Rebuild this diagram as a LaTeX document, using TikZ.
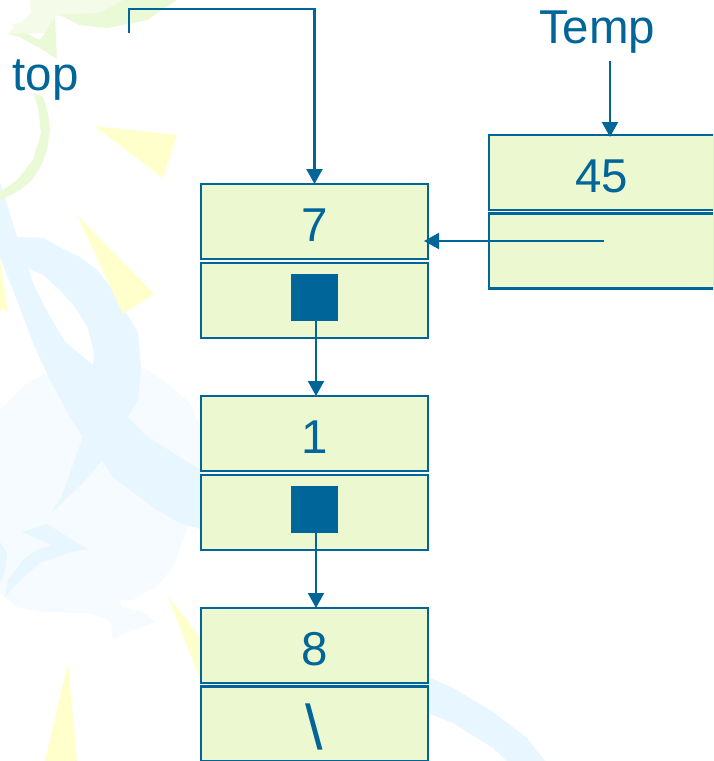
\documentclass[tikz,border=0pt]{standalone}
\usepackage{fontspec}
\setmainfont{Liberation Sans}
\usetikzlibrary{arrows.meta}
\definecolor{ink}{HTML}{006699}
\definecolor{cellfill}{HTML}{ECF8D0}
\definecolor{leafgreen}{HTML}{EAF9D6}
\definecolor{leafpale}{HTML}{F4FBE8}
\definecolor{ribbon}{HTML}{E8F6FF}
\definecolor{cloud}{HTML}{F5FBFF}
\definecolor{spark}{HTML}{FFFFCC}
\tikzset{
  cell/.style={draw=ink,fill=cellfill,line width=2.2pt,inner sep=0pt,outer sep=0pt,
    minimum width=227pt,minimum height=75pt,text=ink,font=\fontsize{47.5}{47.5}\selectfont,
    text height=39pt,text depth=0pt,align=center},
  widecell/.style={cell,minimum width=225pt},
  tag/.style={text=ink,font=\fontsize{47.5}{47.5}\selectfont,inner sep=0pt,outer sep=0pt},
  handle/.style={fill=ink,draw=none,minimum size=47pt,inner sep=0pt,outer sep=0pt},
  link/.style={draw=ink,line width=2.2pt},
  tiplink/.style={link,-{Triangle[width=16pt,length=15pt]}}
}
\begin{document}
\begin{tikzpicture}[x=1pt,y=-1pt]
\useasboundingbox (0,0) rectangle (713,761);
\clip (0,0) rectangle (713,761);
\fill[white] (0,0) rectangle (713,761);

% Faint backdrop: cloud, ribbons, leaf and yellow sparks
\fill[cloud] (0,410) -- (30,380) -- (33,380) -- (47,373) -- (93,365) -- (142,367) -- (163,380)
  -- (190,403) -- (200,427) -- (200,500) -- (188,527) -- (173,567) -- (157,587) -- (143,593)
  -- (133,600) -- (120,600) -- (122,607) -- (143,612) -- (155,622) -- (133,630) -- (113,639)
  -- (110,620) -- (87,613) -- (43,612) -- (17,607) -- (0,593) -- cycle;
\fill[ribbon,even odd rule]
  (0,182) -- (17,237) -- (43,238) -- (63,249) -- (80,257) -- (97,270) -- (113,290) -- (138,333)
  -- (141,367) -- (138,400) -- (128,417) -- (145,435) -- (200,470) -- (210,532) -- (180,523)
  -- (157,510) -- (113,477) -- (102,460) -- (83,483) -- (52,512) -- (63,493) -- (83,437) -- (70,417)
  -- (50,380) -- (33,343) -- (17,300) -- (0,257) -- cycle
  (28,268) -- (43,275) -- (60,290) -- (75,307) -- (88,328) -- (94,353) -- (93,365) -- (65,342)
  -- (48,313) -- (33,283) -- cycle;
\fill[ribbon] (22,532) -- (47,524) -- (87,549) -- (70,552) -- (40,563) -- (20,580) -- (5,597)
  -- (8,580) -- (23,560) -- (37,550) -- (52,545) -- cycle;
\fill[ribbon] (0,542) -- (7,553) -- (5,570) -- (0,583) -- cycle;
\fill[ribbon] (400,668) -- (428,677) -- (453,688) -- (493,712) -- (527,738) -- (545,761)
  -- (507,761) -- (493,748) -- (453,723) -- (428,713) -- (400,703) -- cycle;
\fill[leafpale] (30,0) -- (123,0) -- (100,13) -- (73,17) -- (55,16) -- (45,33) -- (8,34) -- (14,27)
  -- (10,24) -- (20,23) -- (31,13) -- cycle;
\fill[leafgreen] (123,0) -- (177,0) -- (147,20) -- (107,28) -- (80,25) -- (60,15) -- (75,14)
  -- (100,13) -- cycle;
\fill[leafgreen] (55,16) -- (57,59) -- (43,50) -- (20,37) -- (8,34) -- (25,33) -- (40,40) -- (45,33) -- cycle;
\fill[leafgreen] (33,93) -- (43,97) -- (48,113) -- (50,130) -- (47,150) -- (40,168) -- (32,180)
  -- (20,190) -- (0,200) -- (0,192) -- (17,180) -- (33,160) -- (41,133) -- (38,107) -- cycle;
\fill[spark] (94,126) -- (177,135) -- (163,178) -- cycle;
\fill[spark] (77,215) -- (154,294) -- (123,314) -- cycle;
\fill[spark] (0,260) -- (8,312) -- (0,309) -- cycle;
\fill[spark] (168,596) -- (202,640) -- (202,685) -- cycle;
\fill[spark] (68,663) -- (77,761) -- (45,761) -- cycle;

% Stack cells
\node[cell] (val7) at (314.5,221.5) {7};
\node[cell] (ptr7) at (314.5,300.5) {};
\node[cell] (val1) at (314.5,433.5) {1};
\node[cell] (ptr1) at (314.5,512.5) {};
\node[cell] (val8) at (314.5,645.5) {8};
\node[cell,font=\fontsize{63}{63}\selectfont,text height=51pt] (ptr8) at (314.5,724) {\textbackslash};
\node[widecell] (val45) at (601.5,172.5) {45};
\node[widecell] (ptr45) at (601.5,251) {};
\node[handle] (sq7) at (314.5,297.5) {};
\node[handle] (sq1) at (314.5,509.5) {};

% Labels
\node[tag,anchor=base west] (toplabel) at (12.5,90) {top};
\node[tag,anchor=base west] (templabel) at (539,43) {Temp};

% Connector end points
\coordinate (topstart) at (129,33);
\coordinate (topcorner) at (129,9);
\coordinate (topelbow) at (314.5,9);
\coordinate (topend) at (314.5,184);
\coordinate (tempstart) at (610,61);
\coordinate (tempend) at (610,137);
\coordinate (insertstart) at (604,241);
\coordinate (insertend) at (424,241);
\coordinate (drop7) at (316,321);
\coordinate (land1) at (316,396);
\coordinate (drop1) at (316,533);
\coordinate (land8) at (316,608);

% Connectors
\draw[tiplink] (topstart) -- (topcorner) -- (topelbow) -- (topend);
\draw[tiplink] (tempstart) -- (tempend);
\draw[tiplink] (insertstart) -- (insertend);
\draw[tiplink] (drop7) -- (land1);
\draw[tiplink] (drop1) -- (land8);
\end{tikzpicture}
\end{document}
